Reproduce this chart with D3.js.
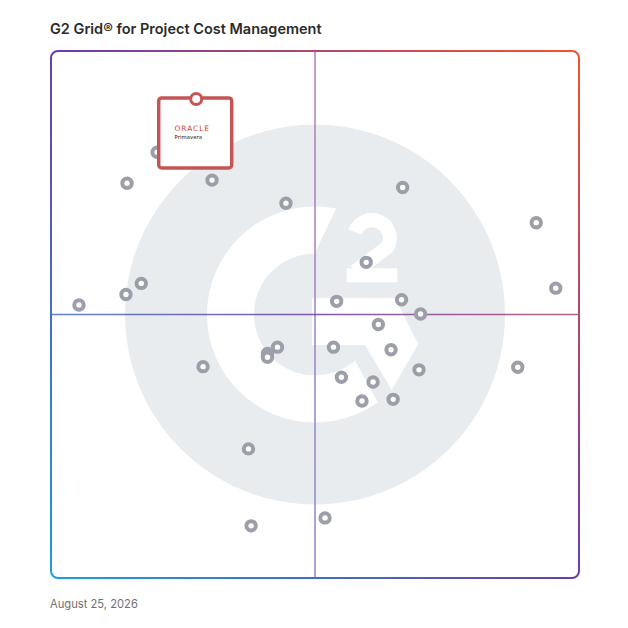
<!DOCTYPE html>
<html>
<head>
<meta charset="utf-8">
<script src="https://cdn.jsdelivr.net/npm/d3@7"></script>
<style>body{margin:0;background:#fff}</style>
</head>
<body>
<svg id="chart" width="628" height="628"></svg>
<script>
const chartTitle = "G2 Grid® for Project Cost Management";
const dateLabel = "August 25, 2026";
// Market presence (x) and satisfaction (y), 0–100
const marketPresence = [14.4, 30.5, 44.5, 66.6, 59.7, 17.1, 14.2, 54.1, 66.4, 70.0, 62.0, 42.9, 41.0, 41.0, 53.5, 64.4, 28.8, 55.0, 61.0, 69.7, 58.9, 64.8, 37.4, 5.3, 88.4, 91.9, 95.6, 37.9, 51.9, 20.1];
const satisfaction   = [74.9, 75.5, 71.1, 74.1, 59.9, 55.9, 53.8, 52.5, 52.8, 50.1, 48.1, 43.8, 42.6, 41.9, 43.8, 43.3, 40.1, 38.1, 37.2, 39.5, 33.6, 33.9, 24.5, 51.8, 40.0, 67.4, 55.0, 9.9, 11.4, 80.8];
const featuredLabel = ["ORACLE", "Primavera"];
const featuredPresence = [27.5];
const featuredSatisfaction = [90.9];

const svg = d3.select("#chart");
const x = d3.scaleLinear().domain([0, 100]).range([51, 579]);
const y = d3.scaleLinear().domain([0, 100]).range([578, 51]);
const cx = x(50), cy = y(50);

const defs = svg.append("defs");
const grad = defs.append("linearGradient").attr("id", "frameGrad")
  .attr("gradientUnits", "userSpaceOnUse")
  .attr("x1", x(0)).attr("y1", y(0)).attr("x2", x(100)).attr("y2", y(100));
grad.append("stop").attr("offset", 0).attr("stop-color", "#1aa0d8");
grad.append("stop").attr("offset", 0.5).attr("stop-color", "#6a3cae");
grad.append("stop").attr("offset", 1).attr("stop-color", "#f8522a");

const vgrad = defs.append("linearGradient").attr("id", "vGrad")
  .attr("gradientUnits", "userSpaceOnUse")
  .attr("x1", cx).attr("y1", y(100)).attr("x2", cx).attr("y2", y(0));
vgrad.append("stop").attr("offset", 0).attr("stop-color", "#b07db6");
vgrad.append("stop").attr("offset", 1).attr("stop-color", "#8a86cf");

defs.append("clipPath").attr("id", "gClip").append("polygon")
  .attr("points", [[30,-124.5],[-15,-30.5],[15,0],[75,110.5],[-215,110.5],[-215,-124.5]]
    .map(p => [cx + p[0], cy + p[1]].join(",")).join(" "));

// title
svg.append("text").attr("x", 50).attr("y", 34)
  .attr("font-family", "Inter, 'Noto Sans', sans-serif").attr("font-weight", 600)
  .attr("font-size", 14.5).attr("fill", "#2b2b2b").text(chartTitle);

// frame background
svg.append("rect").attr("x", x(0)).attr("y", y(100)).attr("width", x(100) - x(0)).attr("height", y(0) - y(100))
  .attr("rx", 7).attr("fill", "#fff");

// G2 watermark
const logo = svg.append("g");
logo.append("circle").attr("cx", cx).attr("cy", cy).attr("r", 190).attr("fill", "#e9ecef");
logo.append("g").attr("clip-path", "url(#gClip)")
  .append("path").attr("transform", `translate(${cx},${cy})`)
  .attr("d", d3.arc().innerRadius(61).outerRadius(108).startAngle(0).endAngle(2 * Math.PI)())
  .attr("fill", "#fff");
logo.append("polygon")
  .attr("points", [[-3,-16.2],[80,-16.2],[103.3,29.5],[76.7,75.5],[50,30.5],[-3,30.5]]
    .map(p => [cx + p[0], cy + p[1]].join(",")).join(" "))
  .attr("fill", "#fff");
logo.append("path")
  .attr("d", `M${cx+40},${cy-82.5} A18,18 0 1,1 ${cx+72.6},${cy-67.5} L${cx+40},${cy-43}`)
  .attr("fill", "none").attr("stroke", "#fff").attr("stroke-width", 14);
logo.append("rect").attr("x", cx + 31.7).attr("y", cy - 46.2).attr("width", 50.6).attr("height", 14).attr("fill", "#fff");

// midlines
svg.append("line").attr("x1", cx).attr("x2", cx).attr("y1", y(100)).attr("y2", y(0))
  .attr("stroke", "url(#vGrad)").attr("stroke-width", 1.5);
svg.append("line").attr("x1", x(0)).attr("x2", x(100)).attr("y1", cy).attr("y2", cy)
  .attr("stroke", "url(#frameGrad)").attr("stroke-width", 1.6).attr("opacity", 0.85);

// frame border
svg.append("rect").attr("x", x(0)).attr("y", y(100)).attr("width", x(100) - x(0)).attr("height", y(0) - y(100))
  .attr("rx", 7).attr("fill", "none").attr("stroke", "url(#frameGrad)").attr("stroke-width", 2);

// points
const pts = marketPresence.map((m, i) => ({ m, s: satisfaction[i] }));
svg.append("g").selectAll("circle").data(pts).join("circle")
  .attr("cx", d => x(d.m)).attr("cy", d => y(d.s)).attr("r", 4.7)
  .attr("fill", "#fff").attr("stroke", "#9c9fa9").attr("stroke-width", 4);

// featured product
const feat = featuredPresence.map((m, i) => ({ m, s: featuredSatisfaction[i] }));
const fg = svg.append("g").selectAll("g").data(feat).join("g")
  .attr("transform", d => `translate(${x(d.m)},${y(d.s)})`);
fg.append("rect").attr("x", -37.5).attr("y", -1).attr("width", 73).attr("height", 70).attr("rx", 3)
  .attr("fill", "#fff").attr("stroke", "#c55555").attr("stroke-width", 3.5);
fg.append("circle").attr("r", 5.5).attr("fill", "#fff").attr("stroke", "#c55555").attr("stroke-width", 3);
fg.append("text").attr("x", -21.7).attr("y", 31.7).attr("font-family", "'DejaVu Sans', sans-serif")
  .attr("font-size", 7.4).attr("letter-spacing", 1.0).attr("fill", "#c74634").text(featuredLabel[0]);
fg.append("text").attr("x", -21.7).attr("y", 40.3).attr("font-family", "'DejaVu Sans', sans-serif")
  .attr("font-size", 5.4).attr("fill", "#222").text(featuredLabel[1]);

// date
svg.append("text").attr("x", 50).attr("y", 608)
  .attr("font-family", "Inter, 'Noto Sans', sans-serif").attr("font-size", 11.2)
  .attr("fill", "#707070").text(dateLabel);
</script>
</body>
</html>
